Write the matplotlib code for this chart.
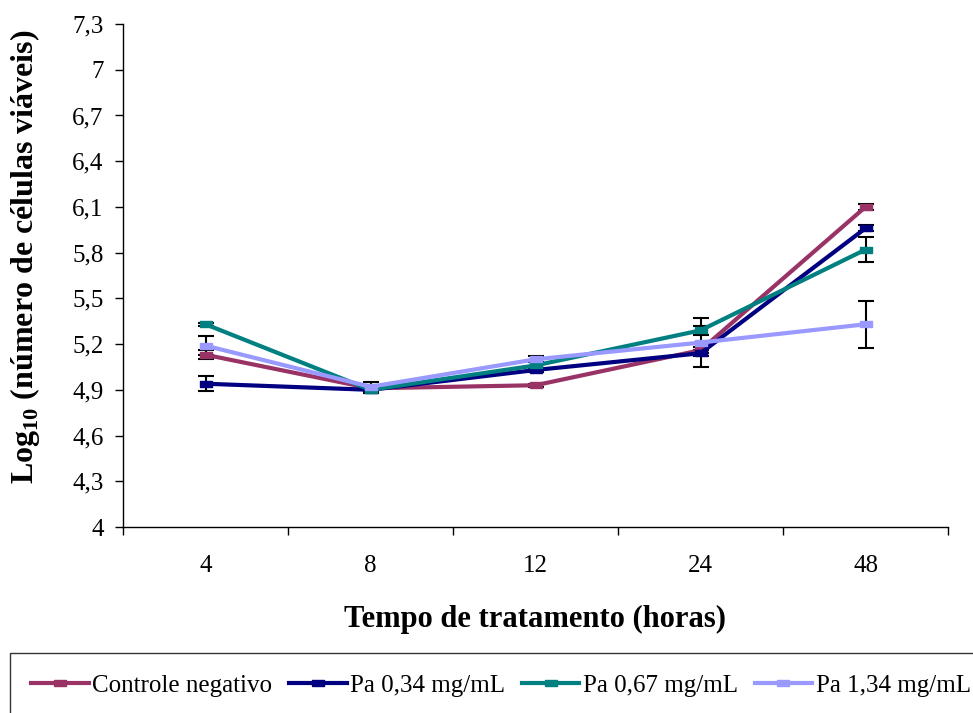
import matplotlib
matplotlib.use("Agg")
import matplotlib.pyplot as plt
import numpy as np

categories = ["4", "8", "12", "24", "48"]
series_names = ["Controle negativo", "Pa 0,34 mg/mL", "Pa 0,67 mg/mL", "Pa 1,34 mg/mL"]
controle = [5.13, 4.91, 4.93, 5.16, 6.10]
pa034 = [4.94, 4.90, 5.03, 5.14, 5.96]
pa067 = [5.33, 4.90, 5.06, 5.29, 5.82]
pa134 = [5.19, 4.92, 5.10, 5.21, 5.33]
err_controle = [0.03, 0.02, 0.01, 0.02, 0.02]
err_pa034 = [0.05, 0.02, 0.01, 0.02, 0.02]
err_pa067 = [0.01, 0.02, 0.02, 0.03, 0.08]
err_pa134 = [0.06, 0.03, 0.02, 0.16, 0.155]
colors = ["#993366", "#000080", "#008080", "#9999FF"]
yticks = [4, 4.3, 4.6, 4.9, 5.2, 5.5, 5.8, 6.1, 6.4, 6.7, 7, 7.3]
ytick_labels = ["4", "4,3", "4,6", "4,9", "5,2", "5,5", "5,8", "6,1", "6,4", "6,7", "7", "7,3"]

plt.rcParams['font.family'] = ['Liberation Serif', 'DejaVu Serif']
plt.rcParams['mathtext.fontset'] = 'custom'
plt.rcParams['mathtext.rm'] = 'Liberation Serif'
plt.rcParams['mathtext.bf'] = 'Liberation Serif:bold'

fig = plt.figure(figsize=(9.73, 7.13), dpi=100)
ax = fig.add_axes([123/973, 1-527/713, (948-123)/973, (527-24)/713])

x = np.arange(len(categories))
data = [controle, pa034, pa067, pa134]
errs = [err_controle, err_pa034, err_pa067, err_pa134]
mk = [(-1.2, -0.5), (1.2, -0.5), (1.2, 0.5), (-1.2, 0.5), (-1.2, -0.5)]
for vals, e, c, n in zip(data, errs, colors, series_names):
    ax.errorbar(x, vals, yerr=e, fmt='none', ecolor='black', elinewidth=1.5,
                capsize=6, capthick=1.5, zorder=2)
    ax.plot(x, vals, color=c, lw=3, marker=mk, markersize=9,
            markeredgecolor=c, markerfacecolor=c, label=n, zorder=3)

ax.set_xlim(-0.5, len(categories) - 0.5)
ax.set_ylim(4, 7.3)
ax.set_yticks(yticks)
ax.set_yticklabels(ytick_labels, fontsize=18)
ax.set_xticks(np.arange(-0.5, len(categories)))
ax.set_xticklabels([])
ax.set_xticks(x, minor=True)
ax.set_xticklabels(categories, minor=True, fontsize=18)
ax.tick_params(axis='x', which='major', direction='out', length=6, width=1)
ax.tick_params(axis='x', which='minor', length=0, pad=20)
ax.tick_params(axis='y', direction='out', length=6, width=1, pad=8)
for s in ['top', 'right']:
    ax.spines[s].set_visible(False)
for s in ['left', 'bottom']:
    ax.spines[s].set_linewidth(1)

ax.set_xlabel("Tempo de tratamento (horas)", fontsize=22, fontweight='bold', labelpad=20)
ax.set_ylabel("Log$_{\\mathbf{10}}$ (número de células viáveis)", fontsize=23, fontweight='bold')
ax.yaxis.set_label_coords(-0.098, 0.537)

leg = fig.legend(loc='upper left', bbox_to_anchor=(10/973, 1-653/713), ncol=4, fontsize=18,
                 frameon=True, fancybox=False, edgecolor='black', handlelength=2.3,
                 handletextpad=0.15, columnspacing=0.66, borderpad=0.85, borderaxespad=0)
leg.get_frame().set_linewidth(1)

fig.savefig("out.png", dpi=100)
